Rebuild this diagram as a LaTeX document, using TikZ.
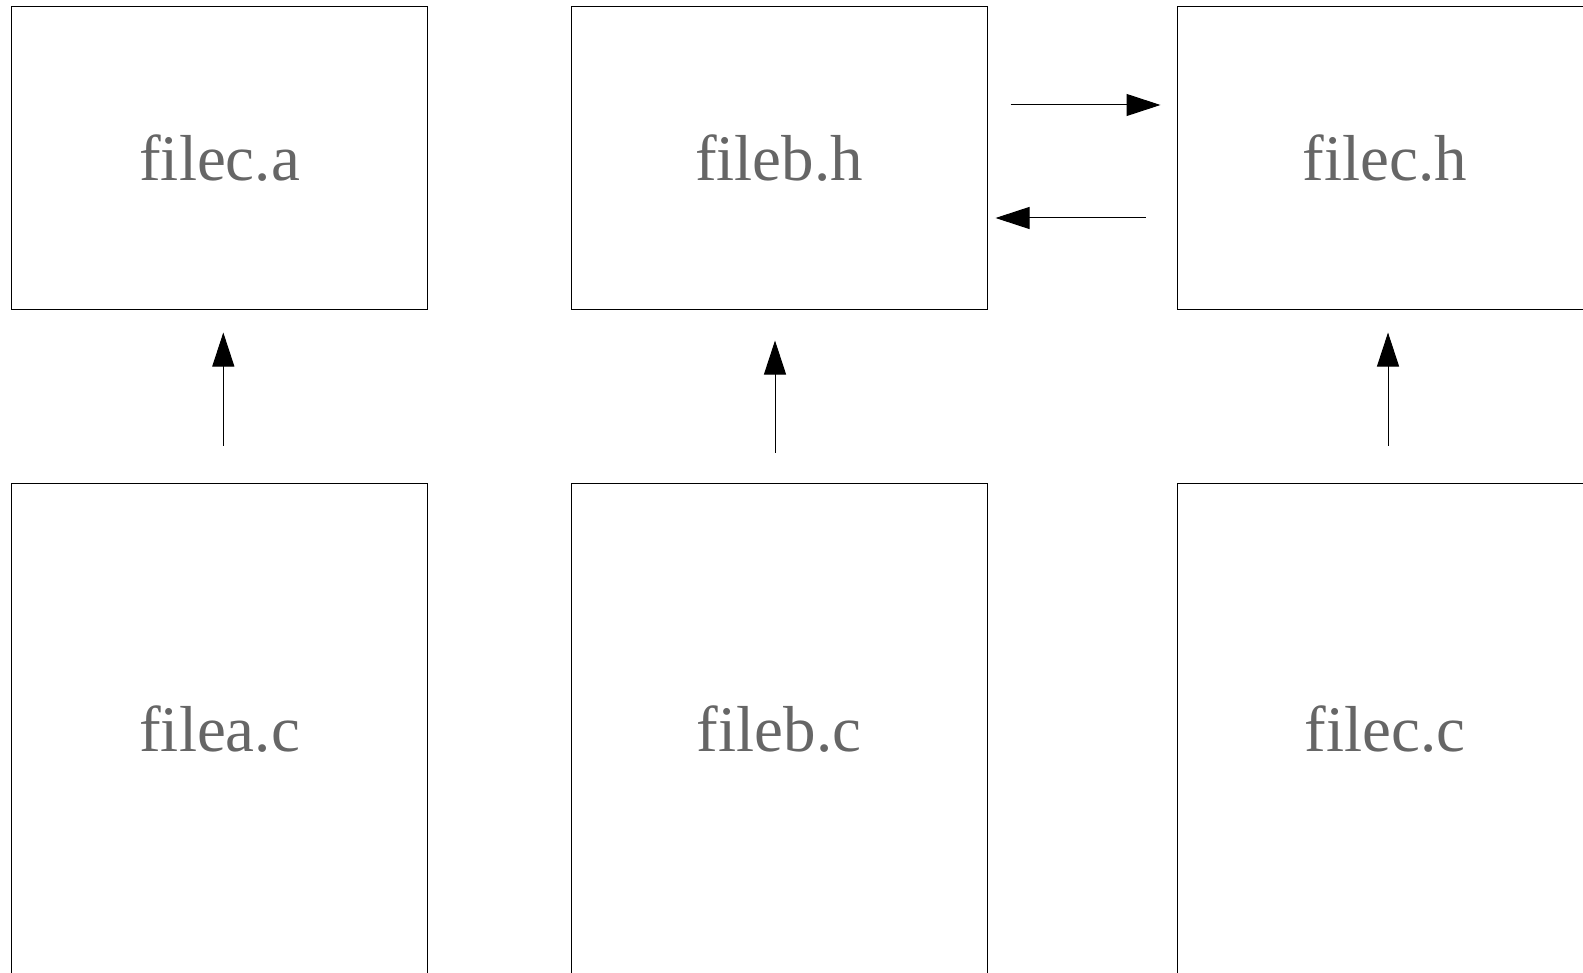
\documentclass[tikz,border=0pt]{standalone}
\usepackage{fontspec}
\setmainfont{Liberation Serif}
\usetikzlibrary{arrows.meta}
\definecolor{txtgray}{HTML}{666666}
\tikzset{
  filebox/.style={draw=black, line width=0.5pt, rectangle, minimum width=208pt, inner sep=0pt,
    text=txtgray, font=\fontsize{32.5}{39}\selectfont},
  topbox/.style={filebox, minimum height=151pt},
  botbox/.style={filebox, minimum height=246.5pt},
  arr/.style={draw=black, line width=0.5pt, -{Triangle[length=17pt,width=11pt]}}
}
\begin{document}
\begin{tikzpicture}[x=0.5pt, y=-0.5pt]
\useasboundingbox (0,0) rectangle (1583,973);
\clip (0,0) rectangle (1583,973);
\node[topbox] (filecA) at (219.6,158) {filec.a};
\node[topbox] (filebH) at (779,158) {fileb.h};
\node[topbox] (filecH) at (1385,158) {filec.h};
\node[botbox] (fileaC) at (219.6,729.5) {filea.c};
\node[botbox] (filebC) at (779,729.5) {fileb.c};
\node[botbox] (filecC) at (1385,729.5) {filec.c};
\draw[arr, shorten <=18.5pt, shorten >=11.5pt] ([xshift=1.85pt]fileaC.north) -- ([xshift=1.85pt]filecA.south);
\draw[arr, shorten <=15pt, shorten >=15.5pt] ([xshift=-2pt]filebC.north) -- ([xshift=-2pt]filebH.south);
\draw[arr, shorten <=18.5pt, shorten >=11.5pt] ([xshift=1.5pt]filecC.north) -- ([xshift=1.5pt]filecH.south);
\draw[arr, shorten <=11.5pt, shorten >=8pt] ([yshift=26.5pt]filebH.east) -- ([yshift=26.5pt]filecH.west);
\draw[arr, shorten <=15.5pt, shorten >=4pt] ([yshift=-30pt]filecH.west) -- ([yshift=-30pt]filebH.east);
\end{tikzpicture}
\end{document}
